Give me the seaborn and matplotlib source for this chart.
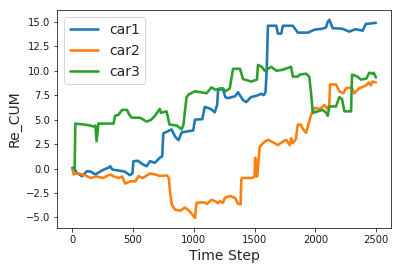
import numpy as np
import pandas as pd
import matplotlib
matplotlib.use("Agg")
import matplotlib.pyplot as plt
import seaborn as sns

# valeurs (pas de temps, Re_CUM)
car1_steps = [0, 15, 38, 80, 120, 150, 190, 230, 260, 300, 312, 330, 380, 430, 475, 495,
              503, 540, 572, 612, 640, 680, 720, 740, 749, 817, 845, 858, 875, 900, 995,
              1010, 1070, 1090, 1140, 1172, 1192, 1200, 1240, 1260, 1282, 1340, 1364, 1405,
              1432, 1470, 1530, 1555, 1575, 1590, 1600, 1610, 1679, 1692, 1720, 1733, 1815,
              1856, 1900, 1940, 1993, 2060, 2089, 2102, 2116, 2143, 2220, 2280, 2330, 2389,
              2417, 2430, 2499]
car1_vals = [0.07, 0.0, -0.44, -0.78, -0.27, -0.3, -0.6, -0.3, -0.1, 0.1, 0.24, -0.1, -0.2,
             -0.3, -0.68, -0.5, 0.75, 0.8, 0.5, 0.24, 0.75, 0.6, 1.1, 1.26, 3.6, 4.0, 3.3,
             3.1, 2.9, 3.7, 3.9, 5.0, 5.05, 6.3, 6.1, 5.75, 6.5, 8.06, 8.1, 7.3, 7.2, 7.4,
             7.8, 7.0, 6.8, 7.3, 7.5, 7.65, 7.5, 7.8, 10.1, 14.6, 14.6, 13.8, 13.8, 14.6,
             14.6, 13.9, 13.9, 13.9, 14.2, 14.3, 14.45, 15.0, 15.2, 14.35, 14.3, 14.0, 14.25,
             14.1, 14.8, 14.8, 14.9]

car2_steps = [0, 11, 40, 80, 110, 148, 200, 250, 312, 340, 380, 410, 435, 480, 520, 544, 580,
              640, 680, 720, 780, 795, 804, 817, 845, 890, 927, 960, 995, 1010, 1022, 1080,
              1110, 1145, 1180, 1200, 1214, 1240, 1255, 1296, 1340, 1364, 1385, 1391, 1400,
              1480, 1500, 1505, 1515, 1522, 1530, 1542, 1569, 1610, 1650, 1692, 1720, 1760,
              1790, 1801, 1815, 1840, 1856, 1880, 1900, 1924, 1945, 1965, 1993, 2040, 2075,
              2100, 2115, 2121, 2170, 2198, 2230, 2252, 2300, 2321, 2360, 2417, 2440, 2455,
              2471, 2499]
car2_vals = [0.0, -0.6, -0.45, -0.6, -0.7, -0.96, -0.8, -0.96, -0.6, -0.8, -0.96, -0.8,
             -1.53, -1.3, -1.3, -0.78, -0.96, -0.5, -0.6, -0.75, -0.7, -1.0, -2.3, -3.6,
             -4.2, -4.3, -3.98, -4.3, -4.8, -5.05, -3.5, -3.45, -3.6, -3.2, -3.35, -3.55,
             -3.33, -3.5, -3.0, -2.8, -3.0, -3.6, -3.65, -1.1, -0.96, -0.96, -0.8, 1.1,
             -0.8, -0.8, 0.5, 2.2, 2.6, 2.95, 2.7, 2.4, 2.65, 2.95, 2.4, 3.1, 2.6, 3.0, 4.5,
             4.5, 4.0, 3.65, 4.6, 5.5, 6.2, 6.1, 6.5, 6.1, 6.5, 8.6, 8.6, 7.9, 7.7, 8.2,
             8.3, 7.7, 8.2, 8.5, 8.8, 8.5, 8.9, 8.8]

car3_steps = [0, 20, 25, 100, 150, 175, 190, 200, 215, 340, 352, 380, 410, 450, 470, 490,
              558, 612, 650, 680, 720, 730, 776, 800, 860, 900, 915, 940, 960, 1010, 1105,
              1145, 1180, 1214, 1240, 1260, 1296, 1323, 1380, 1405, 1473, 1520, 1528, 1560,
              1583, 1637, 1680, 1730, 1801, 1815, 1856, 1870, 1924, 1950, 1965, 1979, 2020,
              2061, 2090, 2102, 2116, 2170, 2198, 2220, 2239, 2294, 2302, 2340, 2376, 2420,
              2444, 2470, 2480, 2499]
car3_vals = [0.07, 0.07, 4.6, 4.5, 4.4, 4.3, 4.4, 2.8, 4.6, 4.6, 5.4, 5.5, 6.0, 6.0, 5.5,
             5.2, 5.2, 4.8, 5.0, 5.4, 6.1, 5.7, 5.85, 4.5, 4.4, 4.0, 4.5, 7.3, 7.6, 7.9,
             7.7, 8.3, 8.05, 8.2, 8.2, 7.9, 8.2, 10.2, 10.2, 9.15, 8.9, 9.1, 10.6, 10.4,
             10.0, 10.4, 10.0, 10.1, 10.4, 9.4, 9.4, 9.6, 9.7, 9.4, 7.7, 5.7, 5.85, 6.0,
             5.7, 5.4, 6.35, 6.35, 7.3, 7.1, 5.85, 5.85, 9.6, 9.45, 9.1, 9.2, 9.8, 9.7, 9.8,
             9.3]

cars = {"car1": (car1_steps, car1_vals),
        "car2": (car2_steps, car2_vals),
        "car3": (car3_steps, car3_vals)}
colors = sns.color_palette("tab10", 3)

sns.set_style("ticks", {"axes.edgecolor": "0.1", "xtick.color": "0.1", "ytick.color": "0.1"})

fig, ax = plt.subplots(figsize=(402 / 72, 270 / 72), dpi=72)
fig.subplots_adjust(left=0.142, right=0.973, bottom=0.156, top=0.963)

for (name, (steps, vals)), col in zip(cars.items(), colors):
    df = pd.DataFrame({"Time Step": steps, "Re_CUM": vals})
    sns.lineplot(data=df, x="Time Step", y="Re_CUM", ax=ax, color=col, linewidth=2.6,
                 label=name, estimator=None, sort=False)

ax.set_xlabel("Time Step", fontsize=14)
ax.set_ylabel("Re_CUM", fontsize=14)
ax.set_xticks([0, 500, 1000, 1500, 2000, 2500])
ax.set_yticks(np.arange(-5, 15.1, 2.5))
ax.tick_params(labelsize=10)
ax.legend(loc="upper left", fontsize=14)

fig.savefig("out.png", dpi=72)
